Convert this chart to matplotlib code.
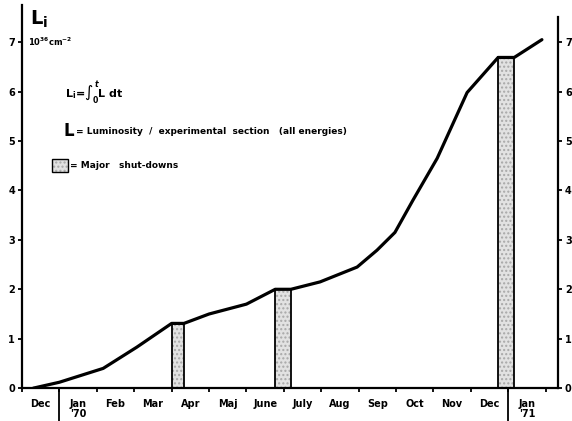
import matplotlib.pyplot as plt
import matplotlib.transforms as mtransforms

# months counted from 1 Dec 1969
month_pos = [0.3, 1.0, 2.17, 3.07, 4.0, 4.33, 5.0, 6.0, 6.77, 7.19, 7.97, 8.96,
             9.49, 9.97, 10.45, 11.1, 11.9, 12.73, 13.16, 13.9]
lumi = [0.0, 0.12, 0.4, 0.83, 1.31, 1.31, 1.5, 1.7, 2.0, 2.0, 2.15, 2.45,
        2.79, 3.15, 3.8, 4.65, 5.98, 6.69, 6.69, 7.05]

shutdown_start = [4.0, 6.77, 12.73]
shutdown_end = [4.33, 7.19, 13.16]
shutdown_level = [1.31, 2.0, 6.69]

month_names = ["Dec", "Jan\n'70", "Feb", "Mar", "Apr", "Maj", "June", "July",
               "Aug", "Sep", "Oct", "Nov", "Dec", "Jan\n'71"]
year_breaks = [1, 13]
yticks = [0, 1, 2, 3, 4, 5, 6, 7]

font = ["Liberation Sans Narrow", "DejaVu Sans"]
plt.rcParams['font.family'] = font
plt.rcParams['font.weight'] = 'bold'

fig = plt.figure(figsize=(5.72, 4.21), dpi=100)
ax = fig.add_axes([0.0385, 0.078, 0.937, 0.91])

# shut-down bars
widths = [e - s for s, e in zip(shutdown_start, shutdown_end)]
ax.bar(shutdown_start, shutdown_level, width=widths, align='edge',
       color='#e2e2e2', hatch='....', edgecolor='#a8a8a8', linewidth=0, zorder=2)
ax.bar(shutdown_start, shutdown_level, width=widths, align='edge',
       fill=False, edgecolor='black', linewidth=1.3, zorder=3)

ax.plot(month_pos, lumi, color='black', linewidth=2.3, zorder=4,
        solid_capstyle='round', solid_joinstyle='round')

ax.set_xlim(0, 14.33)
ax.set_ylim(0, 7.75)

ax.spines['top'].set_visible(False)
for s in ['left', 'right', 'bottom']:
    ax.spines[s].set_linewidth(1.6)
ax.spines['right'].set_bounds(0, 7.5)

# x axis: month boundaries, names in the middle
ax.set_xticks(range(0, 15))
ax.set_xticklabels([])
ax.tick_params(axis='x', which='major', direction='out', length=3, width=1.3)
ax.set_xticks([i + 0.5 for i in range(len(month_names))], minor=True)
ax.set_xticklabels(month_names, minor=True, fontsize=7, fontweight='bold',
                   va='top', linespacing=1.0)
ax.tick_params(axis='x', which='minor', length=0, pad=8)

trans = mtransforms.blended_transform_factory(ax.transData, ax.transAxes)
for yb in year_breaks:
    ax.plot([yb, yb], [0, -0.085], transform=trans, color='black',
            linewidth=1.3, clip_on=False)

# y axes
ax.set_yticks(yticks)
ax.set_yticklabels([str(v) for v in yticks], fontsize=7, fontweight='bold')
ax.tick_params(axis='y', direction='out', length=3, width=1.3, pad=2,
               right=True, labelright=True)

# annotations
ax.text(0.2, 7.47, "L$_\\mathregular{i}$", fontsize=14, va='center', ha='left')
ax.text(0.15, 7.0, "10$^{\\mathregular{36}}$cm$^{\\mathregular{-2}}$",
        fontsize=6, va='center', ha='left')
ax.text(1.15, 5.96, "L$_\\mathregular{i}$=$\\int_0^t$L dt", fontsize=8,
        va='center', ha='left')
ax.text(1.1, 5.2, "L", fontsize=12, va='center', ha='left')
ax.text(1.45, 5.2, "= Luminosity  /  experimental  section   (all energies)",
        fontsize=6.5, va='center', ha='left')

ax.bar([0.8], [0.26], bottom=[4.38], width=0.43, align='edge',
       color='#e2e2e2', hatch='....', edgecolor='#a8a8a8', linewidth=0)
ax.bar([0.8], [0.26], bottom=[4.38], width=0.43, align='edge',
       fill=False, edgecolor='black', linewidth=1.0)
ax.text(1.28, 4.5, "= Major   shut-downs", fontsize=6.5, va='center', ha='left')

fig.savefig("out.png", dpi=100)
